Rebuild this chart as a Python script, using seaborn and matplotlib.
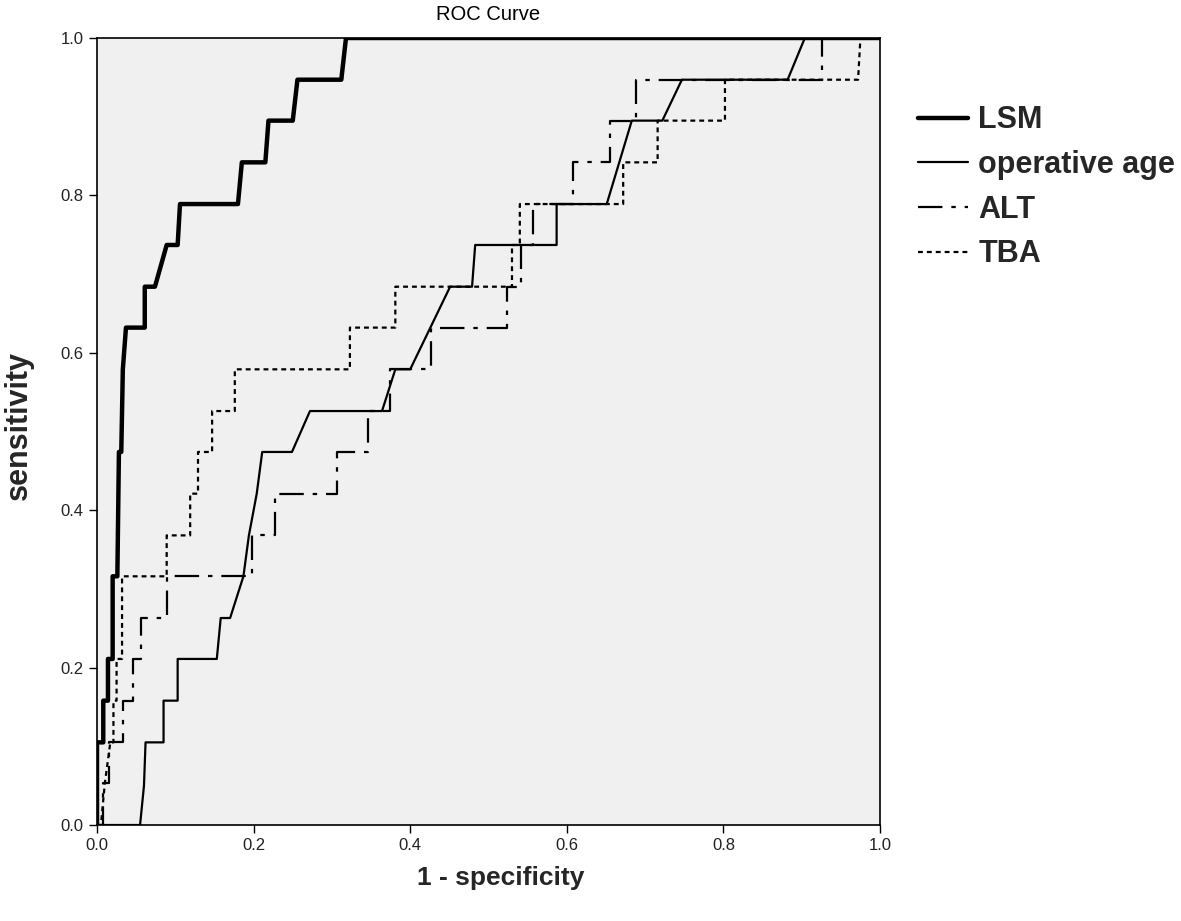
import seaborn as sns
import matplotlib.pyplot as plt
import pandas as pd

# ----- ROC coordinates (1 - specificity, sensitivity) -----
lsm_fpr = [0, 0, 0.008, 0.008, 0.014, 0.014, 0.020, 0.020, 0.026, 0.028, 0.031, 0.033,
           0.037, 0.061, 0.061, 0.074, 0.089, 0.103, 0.106, 0.180, 0.185, 0.215,
           0.219, 0.250, 0.256, 0.312, 0.318, 1.0]
lsm_tpr = [0, 0.105, 0.105, 0.158, 0.158, 0.211, 0.211, 0.316, 0.316, 0.474, 0.474, 0.579,
           0.632, 0.632, 0.684, 0.684, 0.737, 0.737, 0.789, 0.789, 0.842, 0.842,
           0.895, 0.895, 0.947, 0.947, 1.0, 1.0]

age_fpr = [0, 0.055, 0.060, 0.062, 0.085, 0.085, 0.103, 0.103, 0.153, 0.158, 0.170,
           0.187, 0.194, 0.204, 0.211, 0.249, 0.272, 0.364, 0.381, 0.400, 0.451,
           0.479, 0.483, 0.587, 0.587, 0.651, 0.683, 0.722, 0.747, 0.882, 0.904, 1.0]
age_tpr = [0, 0, 0.050, 0.105, 0.105, 0.158, 0.158, 0.211, 0.211, 0.263, 0.263,
           0.316, 0.368, 0.421, 0.474, 0.474, 0.526, 0.526, 0.579, 0.579, 0.684,
           0.684, 0.737, 0.737, 0.789, 0.789, 0.895, 0.895, 0.947, 0.947, 1.0, 1.0]

alt_fpr = [0, 0.008, 0.008, 0.015, 0.015, 0.033, 0.033, 0.046, 0.046, 0.056, 0.056,
           0.089, 0.089, 0.198, 0.198, 0.227, 0.227, 0.307, 0.307, 0.346, 0.346,
           0.374, 0.374, 0.427, 0.427, 0.524, 0.524, 0.542, 0.542, 0.557, 0.557,
           0.608, 0.608, 0.655, 0.655, 0.688, 0.688, 0.926, 0.926, 1.0]
alt_tpr = [0, 0, 0.053, 0.053, 0.105, 0.105, 0.158, 0.158, 0.211, 0.211, 0.263,
           0.263, 0.316, 0.316, 0.368, 0.368, 0.421, 0.421, 0.474, 0.474, 0.526,
           0.526, 0.579, 0.579, 0.632, 0.632, 0.684, 0.684, 0.737, 0.737, 0.789,
           0.789, 0.842, 0.842, 0.895, 0.895, 0.947, 0.947, 1.0, 1.0]

tba_fpr = [0, 0.005, 0.010, 0.017, 0.021, 0.021, 0.025, 0.025, 0.032, 0.032, 0.089,
           0.089, 0.119, 0.119, 0.129, 0.129, 0.147, 0.147, 0.176, 0.176, 0.323,
           0.323, 0.381, 0.381, 0.530, 0.530, 0.540, 0.540, 0.672, 0.672, 0.716,
           0.716, 0.802, 0.802, 0.972, 0.975, 1.0]
tba_tpr = [0, 0, 0.053, 0.105, 0.105, 0.158, 0.158, 0.211, 0.211, 0.316, 0.316,
           0.368, 0.368, 0.421, 0.421, 0.474, 0.474, 0.526, 0.526, 0.579, 0.579,
           0.632, 0.632, 0.684, 0.684, 0.737, 0.737, 0.789, 0.789, 0.842, 0.842,
           0.895, 0.895, 0.947, 0.947, 1.0, 1.0]

series = ["LSM", "operative age", "ALT", "TBA"]
ticks = [0, 0.2, 0.4, 0.6, 0.8, 1.0]

# ----- styling -----
sns.set_style("ticks")
plt.rcParams["font.family"] = ["Liberation Sans", "DejaVu Sans"]

fig = plt.figure(figsize=(11.81, 9.21), dpi=100)
ax = fig.add_axes([97 / 1181, 1 - 825 / 921, (880 - 97) / 1181, (825 - 38) / 921])
ax.set_facecolor("#f0f0f0")

styles = {
    "LSM": dict(x=lsm_fpr, y=lsm_tpr, lw=3.2, ls="-"),
    "operative age": dict(x=age_fpr, y=age_tpr, lw=1.6, ls="-"),
    "ALT": dict(x=alt_fpr, y=alt_tpr, lw=1.6, ls=(0, (11, 4, 2, 4))),
    "TBA": dict(x=tba_fpr, y=tba_tpr, lw=1.6, ls=(0, (2.2, 1.8))),
}
for name in series:
    s = styles[name]
    df = pd.DataFrame({"fpr": s["x"], "tpr": s["y"]})
    sns.lineplot(data=df, x="fpr", y="tpr", sort=False, estimator=None, ax=ax,
                 color="black", linewidth=s["lw"], linestyle=s["ls"], label=name)

ax.set_xlim(0, 1)
ax.set_ylim(0, 1)
ax.set_xticks(ticks)
ax.set_yticks(ticks)
ax.xaxis.set_major_formatter(plt.FormatStrFormatter("%.1f"))
ax.yaxis.set_major_formatter(plt.FormatStrFormatter("%.1f"))
ax.tick_params(labelsize=12, length=6, width=1, color="black", labelcolor="#222222")
for sp in ax.spines.values():
    sp.set_color("black")
    sp.set_linewidth(1.2)
    sp.set_visible(True)

ax.set_title("ROC Curve", fontsize=14.5, pad=13, color="black")
ax.set_xlabel("1 - specificity", fontsize=19, fontweight="bold")
ax.set_ylabel("sensitivity", fontsize=22, fontweight="bold")
ax.xaxis.set_label_coords(0.515, -0.0515)
ax.yaxis.set_label_coords(-0.080, 0.508)

ax.legend(loc="upper left", bbox_to_anchor=(906 / 1181, 1 - 93 / 921),
          bbox_transform=fig.transFigure, frameon=False, fontsize=22,
          handlelength=1.64, handletextpad=0.33, labelspacing=0.48, borderaxespad=0)
for t in ax.get_legend().get_texts():
    t.set_fontweight("bold")

fig.savefig("out.png", dpi=100)
plt.close(fig)
